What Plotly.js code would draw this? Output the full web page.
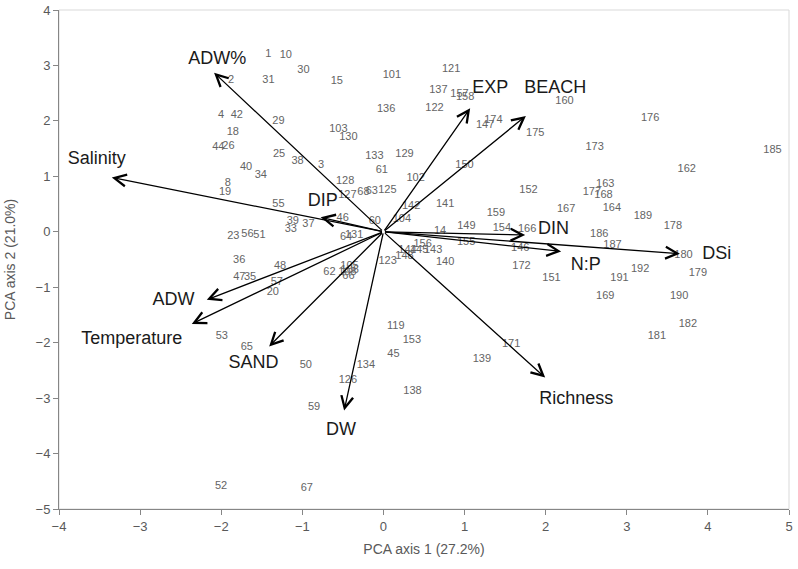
<!DOCTYPE html>
<html><head><meta charset="utf-8">
<script src="https://cdn.plot.ly/plotly-3.0.1.min.js"></script>
<style>html,body{margin:0;padding:0;background:#fff}#chart{width:798px;height:569px}</style>
</head><body><div id="chart"></div>
<script>
// Sample scores (site numbers) on PCA axes 1 and 2
const sampleLabels = ["1","10","30","2","31","15","101","121","137","157","158","136","122","160","4","42","29","174","147","176","103","130","18","175","44","26","173","185","25","129","133","38","3","150","40","162","61","34","102","128","8","163","152","19","68","63","125","177","168","127","55","141","142","164","167","159","189","46","104","39","60","37","149","178","154","33","166","14","186","56","51","131","23","64","155","156","187","146","144","145","143","180","148","36","123","140","105","48","172","192","106","108","62","179","66","47","35","151","191","57","20","169","190","182","119","53","181","153","171","65","45","139","134","50","126","138","59","52","67"];
const sampleX = [-1.418,-1.203,-0.986,-1.878,-1.418,-0.575,0.104,0.835,0.678,0.937,1.007,0.033,0.629,2.232,-2.001,-1.808,-1.295,1.356,1.254,3.288,-0.555,-0.432,-1.857,1.871,-2.035,-1.911,2.604,4.797,-1.286,0.259,-0.111,-1.058,-0.768,0.999,-1.693,3.739,-0.020,-1.512,0.397,-0.472,-1.919,2.734,1.788,-1.952,-0.247,-0.143,0.049,2.570,2.713,-0.444,-1.295,0.761,0.342,2.816,2.253,1.386,3.199,-0.503,0.227,-1.117,-0.106,-0.925,1.023,3.568,1.460,-1.142,1.772,0.699,2.660,-1.677,-1.529,-0.361,-1.850,-0.460,1.020,0.483,2.824,1.686,0.296,0.440,0.613,3.699,0.259,-1.779,0.052,0.761,-0.419,-1.274,1.702,3.165,-0.415,-0.445,-0.666,3.877,-0.432,-1.776,-1.644,2.072,2.910,-1.314,-1.364,2.734,3.646,3.753,0.153,-1.993,3.371,0.350,1.575,-1.684,0.123,1.213,-0.217,-0.957,-0.439,0.358,-0.855,-2.001,-0.945];
const sampleY = [3.207,3.189,2.919,2.733,2.739,2.708,2.816,2.924,2.559,2.481,2.420,2.216,2.229,2.348,2.095,2.095,1.987,2.018,1.928,2.049,1.850,1.706,1.796,1.778,1.526,1.550,1.532,1.465,1.400,1.405,1.357,1.279,1.207,1.198,1.166,1.135,1.117,1.027,0.973,0.906,0.877,0.861,0.744,0.715,0.715,0.726,0.744,0.708,0.658,0.654,0.499,0.499,0.468,0.427,0.402,0.337,0.283,0.247,0.229,0.198,0.186,0.144,0.095,0.095,0.067,0.054,0.041,0.018,-0.036,-0.036,-0.054,-0.063,-0.085,-0.095,-0.180,-0.229,-0.234,-0.303,-0.330,-0.337,-0.337,-0.427,-0.445,-0.517,-0.532,-0.546,-0.613,-0.625,-0.625,-0.667,-0.700,-0.725,-0.730,-0.744,-0.811,-0.816,-0.816,-0.834,-0.834,-0.906,-1.099,-1.166,-1.166,-1.663,-1.706,-1.886,-1.886,-1.964,-2.036,-2.077,-2.216,-2.294,-2.409,-2.414,-2.679,-2.877,-3.171,-4.589,-4.618];

// Variable loadings (arrow tips) and their label positions
const varNames = ["ADW%","EXP","BEACH","Salinity","ADW","Temperature","SAND","DW","Richness","DIP","DIN","N:P","DSi"];
const varX = [-2.088,1.069,1.756,-3.349,-2.178,-2.363,-1.409,-0.485,1.994,-0.774,1.747,2.191,3.655];
const varY = [2.870,2.229,2.090,0.978,-1.225,-1.663,-2.067,-3.225,-2.630,0.261,-0.059,-0.355,-0.396];
const varLabelX = [-2.05,1.316,2.117,-3.534,-2.589,-3.102,-1.603,-0.522,2.376,-0.747,2.096,2.495,4.110];
const varLabelY = [3.10,2.589,2.589,1.297,-1.238,-1.946,-2.378,-3.580,-3.027,0.546,0.049,-0.613,-0.414];

const FONT = 'Arial, "Liberation Sans", sans-serif';

const traces = [
  {
    type: 'scatter', mode: 'text',
    x: sampleX, y: sampleY, text: sampleLabels,
    textposition: 'middle center',
    textfont: {family: FONT, size: 11, color: '#646464'},
    hoverinfo: 'text', showlegend: false, cliponaxis: false
  },
  {
    type: 'scatter', mode: 'text',
    x: varLabelX, y: varLabelY, text: varNames,
    textposition: 'middle center',
    textfont: {family: FONT, size: 18, color: '#1a1a1a'},
    hoverinfo: 'text', showlegend: false, cliponaxis: false
  }
];

const annotations = varNames.map((n, i) => ({
  x: varX[i], y: varY[i], xref: 'x', yref: 'y',
  ax: 0, ay: 0, axref: 'x', ayref: 'y',
  text: '', showarrow: true, arrowhead: 5, arrowsize: 1.8,
  arrowwidth: 1.3, arrowcolor: '#000', standoff: 0, startstandoff: 0
}));

const axisCommon = {
  showgrid: false, zeroline: false, showline: true, linecolor: '#868686', linewidth: 1,
  mirror: false, ticks: 'outside', ticklen: 5, tickcolor: '#868686', tickwidth: 1,
  tickfont: {family: FONT, size: 13, color: '#595959'}, dtick: 1, tick0: 0
};

const layout = {
  width: 798, height: 569,
  margin: {l: 59, r: 9, t: 10, b: 60},
  paper_bgcolor: '#fff', plot_bgcolor: '#fff',
  font: {family: FONT},
  xaxis: Object.assign({}, axisCommon, {
    range: [-4, 5],
    title: {text: 'PCA axis 1 (27.2%)', font: {family: FONT, size: 14, color: '#595959'}, standoff: 11}
  }),
  yaxis: Object.assign({}, axisCommon, {
    range: [-5, 4],
    title: {text: 'PCA axis 2 (21.0%)', font: {family: FONT, size: 14, color: '#595959'}, standoff: 16}
  }),
  annotations: annotations,
  shapes: [{type: 'rect', xref: 'paper', yref: 'paper', x0: 0, y0: 0, x1: 1, y1: 1, line: {color: '#d9d9d9', width: 1}, layer: 'below'}]
};

Plotly.newPlot('chart', traces, layout, {displayModeBar: false, staticPlot: true});
</script>
</body></html>
